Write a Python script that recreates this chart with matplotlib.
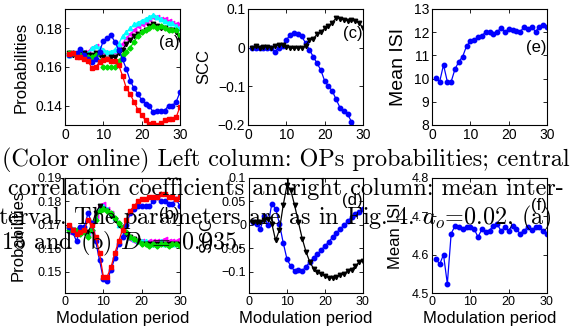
import matplotlib
matplotlib.use("Agg")
import matplotlib.pyplot as plt
import numpy as np

plt.rcParams['font.family'] = ['Liberation Sans', 'DejaVu Sans']
plt.rcParams['mathtext.fontset'] = 'cm'

x = np.arange(1, 31)

# Panel (a): OP probabilities, top
a_blue = [0.166, 0.167, 0.167, 0.1695, 0.166, 0.164, 0.1625, 0.164, 0.168, 0.1735, 0.175, 0.1765, 0.173, 0.169, 0.164,
          0.159, 0.153, 0.149, 0.146, 0.143, 0.141, 0.140, 0.1365, 0.137, 0.1375, 0.1375, 0.140, 0.140, 0.142, 0.147]
a_red = [0.1668, 0.167, 0.165, 0.165, 0.164, 0.163, 0.1595, 0.160, 0.1625, 0.1635, 0.164, 0.163, 0.163, 0.161, 0.1555,
         0.149, 0.146, 0.142, 0.138, 0.135, 0.1325, 0.1305, 0.131, 0.130, 0.131, 0.1325, 0.133, 0.133, 0.134, 0.1395]
a_mag = [0.166, 0.167, 0.167, 0.167, 0.168, 0.168, 0.170, 0.171, 0.169, 0.168, 0.167, 0.166, 0.168, 0.170, 0.172,
         0.175, 0.177, 0.179, 0.181, 0.182, 0.183, 0.185, 0.186, 0.186, 0.185, 0.185, 0.184, 0.183, 0.182, 0.1825]
a_cyan = [0.166, 0.167, 0.167, 0.167, 0.168, 0.167, 0.170, 0.171, 0.170, 0.169, 0.168, 0.168, 0.169, 0.172, 0.176,
          0.178, 0.180, 0.182, 0.183, 0.184, 0.185, 0.186, 0.187, 0.186, 0.185, 0.184, 0.183, 0.183, 0.181, 0.180]
a_black = [0.167, 0.166, 0.166, 0.167, 0.167, 0.166, 0.166, 0.167, 0.166, 0.165, 0.164, 0.165, 0.165, 0.167, 0.169,
           0.172, 0.174, 0.176, 0.177, 0.178, 0.179, 0.181, 0.182, 0.181, 0.180, 0.180, 0.179, 0.179, 0.178, 0.174]
a_green = [0.167, 0.167, 0.166, 0.166, 0.165, 0.165, 0.165, 0.166, 0.163, 0.160, 0.160, 0.160, 0.160, 0.163, 0.166,
           0.168, 0.170, 0.173, 0.176, 0.178, 0.179, 0.180, 0.181, 0.180, 0.181, 0.180, 0.179, 0.179, 0.179, 0.1765]

# Panel (b): OP probabilities, bottom
b_blue = [0.169, 0.167, 0.163, 0.169, 0.169, 0.175, 0.171, 0.163, 0.155, 0.147, 0.146, 0.151, 0.156, 0.162, 0.165,
          0.170, 0.175, 0.177, 0.178, 0.178, 0.178, 0.178, 0.180, 0.182, 0.180, 0.180, 0.179, 0.179, 0.181, 0.178]
b_red = [0.170, 0.168, 0.166, 0.167, 0.168, 0.172, 0.170, 0.165, 0.158, 0.148, 0.148, 0.152, 0.158, 0.163, 0.168,
         0.172, 0.176, 0.178, 0.180, 0.181, 0.181, 0.182, 0.182, 0.182, 0.183, 0.183, 0.182, 0.182, 0.181, 0.182]
b_mag = [0.167, 0.168, 0.168, 0.167, 0.167, 0.166, 0.167, 0.174, 0.178, 0.179, 0.177, 0.175, 0.172, 0.170, 0.169,
         0.166, 0.164, 0.163, 0.163, 0.163, 0.162, 0.163, 0.163, 0.163, 0.163, 0.164, 0.163, 0.163, 0.163, 0.164]
b_cyan = [0.168, 0.168, 0.167, 0.167, 0.168, 0.167, 0.170, 0.173, 0.177, 0.178, 0.177, 0.175, 0.173, 0.170, 0.168,
          0.166, 0.165, 0.164, 0.163, 0.163, 0.163, 0.162, 0.162, 0.162, 0.163, 0.162, 0.162, 0.162, 0.162, 0.162]
b_black = [0.168, 0.168, 0.167, 0.168, 0.167, 0.167, 0.170, 0.175, 0.178, 0.177, 0.176, 0.174, 0.172, 0.170, 0.168,
           0.166, 0.165, 0.164, 0.163, 0.162, 0.162, 0.162, 0.162, 0.162, 0.162, 0.162, 0.162, 0.162, 0.162, 0.162]
b_green = [0.168, 0.167, 0.168, 0.166, 0.167, 0.165, 0.168, 0.172, 0.176, 0.177, 0.176, 0.175, 0.173, 0.171, 0.169,
           0.167, 0.165, 0.164, 0.163, 0.162, 0.162, 0.161, 0.162, 0.161, 0.162, 0.162, 0.161, 0.162, 0.162, 0.161]

# Panel (c): SCC, top
c_blue = [0.0, 0.0, 0.0, 0.0, 0.0, 0.0, -0.010, 0.0, 0.005, 0.020, 0.033, 0.038, 0.036, 0.030, 0.012,
          -0.005, -0.023, -0.040, -0.058, -0.086, -0.100, -0.112, -0.134, -0.155, -0.163, -0.172, -0.192,
          -0.210, -0.225, -0.240]
c_black = [0.0, 0.005, 0.0, 0.003, 0.002, 0.0, 0.005, 0.007, 0.008, 0.003, 0.0, -0.002, 0.0, 0.0, 0.005,
           0.020, 0.022, 0.035, 0.040, 0.050, 0.055, 0.065, 0.077, 0.075, 0.072, 0.070, 0.072, 0.068, 0.065, 0.050]

# Panel (d): SCC, bottom
d_blue = [0.006, 0.003, -0.008, 0.018, -0.001, 0.045, 0.035, 0.003, -0.038, -0.073, -0.088, -0.098, -0.097, -0.098,
          -0.089, -0.079, -0.070, -0.062, -0.053, -0.045, -0.036, -0.026, -0.017, -0.008, -0.001, 0.008, 0.017,
          0.024, 0.028, 0.033]
d_black = [0.006, 0.007, 0.006, 0.010, 0.013, 0.003, -0.033, -0.011, 0.042, 0.085, 0.074, 0.042, 0.006, -0.029,
           -0.057, -0.079, -0.093, -0.100, -0.104, -0.109, -0.112, -0.113, -0.111, -0.107, -0.104, -0.098, -0.095,
           -0.088, -0.079, -0.077]

# Panel (e): mean ISI, top
e_isi = [10.01, 9.87, 10.59, 9.87, 9.87, 10.41, 10.73, 10.95, 11.40, 11.60, 11.66, 11.78, 11.85, 12.00, 12.00,
         11.92, 12.02, 12.18, 12.02, 12.12, 12.09, 12.07, 12.00, 12.24, 12.14, 12.24, 12.02, 12.24, 12.31, 12.24]
# Panel (f): mean ISI, bottom
f_isi = [4.590, 4.575, 4.600, 4.524, 4.655, 4.675, 4.673, 4.667, 4.671, 4.671, 4.667, 4.646, 4.666, 4.658, 4.663,
         4.676, 4.680, 4.662, 4.671, 4.663, 4.676, 4.666, 4.655, 4.663, 4.671, 4.665, 4.671, 4.673, 4.662, 4.655]

xticks = [0, 10, 20, 30]
a_yticks = [0.14, 0.16, 0.18]
a_ylabels = ['0.14', '0.16', '0.18']
b_yticks = [0.15, 0.16, 0.17, 0.18, 0.19]
b_ylabels = ['0.15', '0.16', '0.17', '0.18', '0.19']
c_yticks = [-0.2, -0.1, 0.0, 0.1]
c_ylabels = ['\u22120.2', '\u22120.1', '0', '0.1']
d_yticks = [-0.1, -0.05, 0.0, 0.05, 0.1]
d_ylabels = ['\u22120.1', '\u22120.05', '0', '0.05', '0.1']
e_yticks = [8, 9, 10, 11, 12, 13]
e_ylabels = ['8', '9', '10', '11', '12', '13']
f_yticks = [4.5, 4.6, 4.7, 4.8]
f_ylabels = ['4.5', '4.6', '4.7', '4.8']

caption = [
    "(Color online) Left column: OPs probabilities; central",
    "correlation coefficients andright column: mean inter-",
    r"terval. The parameters are as in Fig. 4. $a_o$=0.02, (a)",
    r"15 and (b) $D\ =\ 0.035$.",
]

W, H = 581, 332
fig = plt.figure(figsize=(W / 100, H / 100), dpi=100)


def px_axes(l, t, r, b):
    return fig.add_axes([l / W, 1 - b / H, (r - l) / W, (b - t) / H])


def style(ax, ylim, yt, yl, fs, label, lab_x, lab_fs=12, xlabel=None):
    ax.set_xlim(0, 30)
    ax.set_ylim(*ylim)
    ax.set_xticks(xticks)
    ax.set_xticklabels([str(v) for v in xticks])
    ax.set_yticks(yt)
    ax.set_yticklabels(yl)
    ax.tick_params(direction='in', top=True, right=True, length=3, width=0.6, labelsize=fs, pad=2)
    for s in ax.spines.values():
        s.set_linewidth(0.8)
    ax.set_ylabel(label, fontsize=lab_fs)
    ax.yaxis.set_label_coords(lab_x, 0.5)
    if xlabel:
        ax.set_xlabel(xlabel, fontsize=12, labelpad=2.5)


lw = 0.9
ms = 3.2

axA = px_axes(65, 9, 180, 125)
axA.plot(x, a_mag, '-<', color='magenta', lw=lw, ms=ms)
axA.plot(x, a_cyan, '-^', color='cyan', lw=lw, ms=ms)
axA.plot(x, a_black, '-v', color='black', lw=lw, ms=ms)
axA.plot(x, a_green, '-D', color='#00dd00', lw=lw, ms=ms - 0.6)
axA.plot(x, a_blue, '-o', color='blue', lw=lw, ms=ms)
axA.plot(x, a_red, '-s', color='red', lw=lw, ms=ms)
style(axA, (0.13, 0.19), a_yticks, a_ylabels, 10, 'Probabilities', -0.313)
axA.text(0.995, 0.71, '(a)', transform=axA.transAxes, ha='right', va='center', fontsize=12)

axC = px_axes(248, 9, 363, 125)
axC.plot(x, c_blue, '-o', color='blue', lw=lw, ms=ms)
axC.plot(x, c_black, '-v', color='black', lw=lw, ms=ms)
style(axC, (-0.2, 0.1), c_yticks, c_ylabels, 10, 'SCC', -0.32)
axC.text(0.995, 0.79, '(c)', transform=axC.transAxes, ha='right', va='center', fontsize=12)

axE = px_axes(432, 9, 547, 125)
axE.plot(x, e_isi, '-o', color='blue', lw=lw, ms=ms)
style(axE, (8, 13), e_yticks, e_ylabels, 10, 'Mean ISI', -0.217, lab_fs=14)
axE.text(0.995, 0.67, '(e)', transform=axE.transAxes, ha='right', va='center', fontsize=12)

axB = px_axes(65, 178, 180, 293)
axB.plot(x, b_mag, '-<', color='magenta', lw=lw, ms=ms)
axB.plot(x, b_cyan, '-^', color='cyan', lw=lw, ms=ms)
axB.plot(x, b_black, '-v', color='black', lw=lw, ms=ms)
axB.plot(x, b_green, '-D', color='#00dd00', lw=lw, ms=ms - 0.6)
axB.plot(x, b_blue, '-o', color='blue', lw=lw, ms=ms)
axB.plot(x, b_red, '-s', color='red', lw=lw, ms=ms)
style(axB, (0.141, 0.19), b_yticks, b_ylabels, 9, 'Probabilities', -0.339, xlabel='Modulation period')
axB.text(0.995, 0.68, '(b)', transform=axB.transAxes, ha='right', va='center', fontsize=12)

axD = px_axes(249, 178, 363, 293)
axD.plot(x, d_blue, '-o', color='blue', lw=lw, ms=ms)
axD.plot(x, d_black, '-v', color='black', lw=lw, ms=ms)
style(axD, (-0.145, 0.1), d_yticks, d_ylabels, 9, 'SCC', -0.304, xlabel='Modulation period')
axD.text(0.995, 0.8, '(d)', transform=axD.transAxes, ha='right', va='center', fontsize=12)

axF = px_axes(432, 178, 547, 293)
axF.plot(x, f_isi, '-o', color='blue', lw=lw, ms=ms)
style(axF, (4.5, 4.8), f_yticks, f_ylabels, 9, 'Mean ISI', -0.252, lab_fs=12, xlabel='Modulation period')
axF.text(0.995, 0.76, '(f)', transform=axF.transAxes, ha='right', va='center', fontsize=12)

cap_x = [2, 8, -2, 1]
cap_y = [166, 195.5, 224, 249]
for txt, cx, cy in zip(caption, cap_x, cap_y):
    fig.text(cx / W, 1 - cy / H, txt, family='cmr10', fontsize=17.4, ha='left', va='baseline', zorder=10)

fig.savefig('out.png', dpi=100)
